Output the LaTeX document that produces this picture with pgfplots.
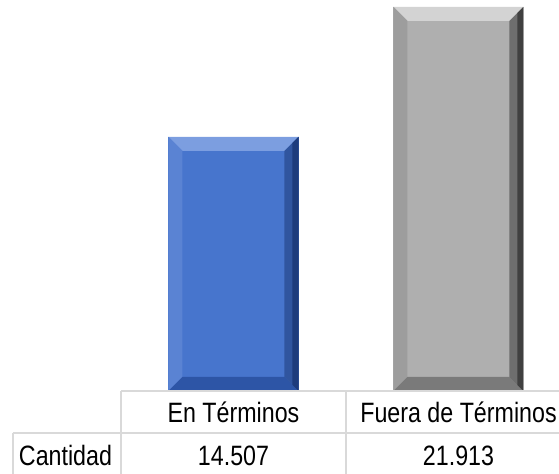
\documentclass[border=0pt]{standalone}
\usepackage{fontspec}
\setmainfont[FakeStretch=0.83]{Liberation Sans}
\usepackage{pgfplots}
\pgfplotsset{compat=1.18}

\definecolor{blueface}{HTML}{4775CD}
\definecolor{bluetop}{HTML}{7C9EE0}
\definecolor{blueleft}{HTML}{5A83D3}
\definecolor{bluermid}{HTML}{30559F}
\definecolor{blueright}{HTML}{1E3C7C}
\definecolor{bluebot}{HTML}{2D55A6}
\definecolor{grayface}{HTML}{AFAFAF}
\definecolor{graytop}{HTML}{D3D3D3}
\definecolor{grayleft}{HTML}{9D9D9D}
\definecolor{grayrmid}{HTML}{6E6E6E}
\definecolor{grayright}{HTML}{404040}
\definecolor{graybot}{HTML}{7A7A7A}
\definecolor{gridc}{HTML}{D9D9D9}

% low level pieces for the bevel, so no tikz options are inherited
\def\ppb#1{\pgfpointanchor{path picture bounding box}{#1}}
\def\off#1#2#3{\pgfpointadd{\ppb{#1}}{\pgfpoint{#2}{#3}}}
\newcommand\bq[5]{\pgfsetfillcolor{#1}\pgfpathmoveto{#2}\pgfpathlineto{#3}%
  \pgfpathlineto{#4}\pgfpathlineto{#5}\pgfpathclose\pgfusepath{fill}}

% face, top, left, right middle, right outer, bottom
\tikzset{
  bevel/.style n args={6}{
    fill=#1,
    path picture={%
      \bq{#2}{\ppb{north west}}{\ppb{north east}}{\off{north east}{-14bp}{-14bp}}{\off{north west}{14bp}{-14bp}}%
      \bq{#3}{\ppb{north west}}{\off{north west}{14bp}{-14bp}}{\off{south west}{14bp}{14bp}}{\ppb{south west}}%
      \bq{#6}{\ppb{south west}}{\off{south west}{14bp}{14bp}}{\off{south east}{-14bp}{14bp}}{\ppb{south east}}%
      \bq{#4}{\ppb{north east}}{\ppb{south east}}{\off{south east}{-14bp}{14bp}}{\off{north east}{-14bp}{-14bp}}%
      \bq{#5}{\ppb{north east}}{\ppb{south east}}{\off{south east}{-6bp}{6bp}}{\off{north east}{-6bp}{-6bp}}%
    }
  }
}

\begin{document}
\begin{tikzpicture}
\begin{axis}[
  name=ax, at={(0,0)}, anchor=south west,
  scale only axis, width=438bp, height=391bp,
  xmin=-0.5, xmax=1.4467, ymin=0, ymax=22.31,
  hide axis, clip=false,
  ybar, bar width=130bp,
]
\addplot[draw=none, bar shift=0pt, bevel={blueface}{bluetop}{blueleft}{bluermid}{blueright}{bluebot}]
  coordinates {(0,14.507)};
\addplot[draw=none, bar shift=0pt, bevel={grayface}{graytop}{grayleft}{grayrmid}{grayright}{graybot}]
  coordinates {(1,21.913)};
\end{axis}

\begin{scope}[shift={(ax.south west)}, font=\fontsize{28bp}{32bp}\selectfont]
  \draw[gridc, line width=1.3bp] (0,0) -- (460bp,0);
  \draw[gridc, line width=1.3bp] (-108bp,-42bp) -- (460bp,-42bp);
  \draw[gridc, line width=1.3bp] (-108bp,-42bp) -- (-108bp,-90bp);
  \draw[gridc, line width=1.3bp] (0,0) -- (0,-90bp);
  \draw[gridc, line width=1.3bp] (225bp,0) -- (225bp,-90bp);
  \node[anchor=base, inner sep=0] at (112.5bp,-31bp) {En Términos};
  \node[anchor=base, inner sep=0] at (337.5bp,-31bp) {Fuera de Términos};
  \node[anchor=base, inner sep=0] at (-55.5bp,-74bp) {Cantidad};
  \node[anchor=base, inner sep=0] at (112.5bp,-74bp) {14.507};
  \node[anchor=base, inner sep=0] at (337.5bp,-74bp) {21.913};
\end{scope}

\pgfresetboundingbox
\path[use as bounding box] ([shift={(-121bp,-83bp)}]ax.south west) rectangle ([shift={(438bp,391bp)}]ax.south west);
\end{tikzpicture}
\end{document}
